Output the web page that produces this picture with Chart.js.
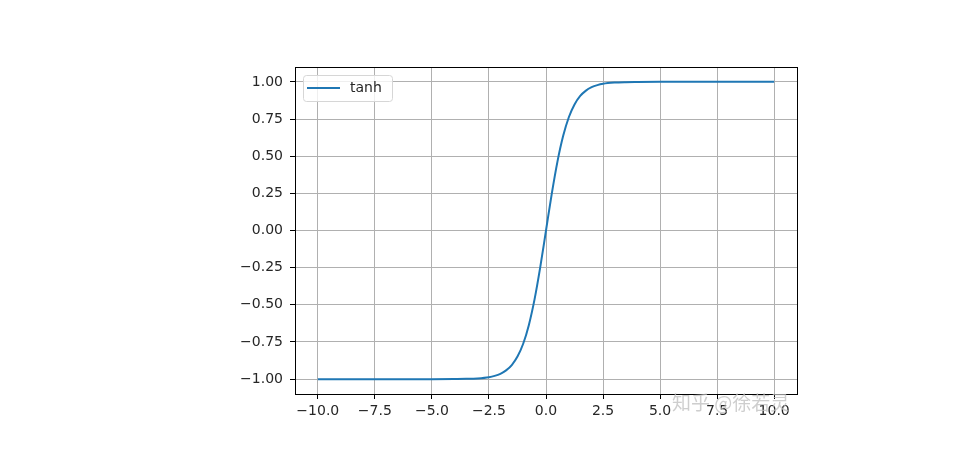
<!DOCTYPE html>
<html>
<head>
<meta charset="utf-8">
<script src="https://cdn.jsdelivr.net/npm/chart.js@4/dist/chart.umd.min.js"></script>
<style>
  body { margin: 0; background: #fff; }
  canvas { display: block; }
</style>
</head>
<body>
<canvas id="chart" width="973" height="462"></canvas>
<script>
// values
const seriesName = 'tanh';
const xValues = [-10, -9, -8, -7, -6, -5, -4, -3.5, -3, -2.5, -2.25, -2, -1.75, -1.5, -1.25, -1, -0.75, -0.5, -0.25,
                 0, 0.25, 0.5, 0.75, 1, 1.25, 1.5, 1.75, 2, 2.25, 2.5, 3, 3.5, 4, 5, 6, 7, 8, 9, 10];
const yValues = [-1.00, -1.00, -1.00, -1.00, -1.00, -1.00, -0.999, -0.998, -0.995, -0.987, -0.978, -0.964, -0.941, -0.905, -0.848, -0.762, -0.635, -0.462, -0.245,
                 0.00, 0.245, 0.462, 0.635, 0.762, 0.848, 0.905, 0.941, 0.964, 0.978, 0.987, 0.995, 0.998, 0.999, 1.00, 1.00, 1.00, 1.00, 1.00, 1.00];
const xTicks = [-10, -7.5, -5, -2.5, 0, 2.5, 5, 7.5, 10];
const yTicks = [-1, -0.75, -0.5, -0.25, 0, 0.25, 0.5, 0.75, 1];

const fontFamily = '"DejaVu Sans", sans-serif';
const textColor = '#262626';
const minus = s => s.replace('-', '\u2212');

const points = xValues.map((x, i) => ({ x: x, y: yValues[i] }));

const framePlugin = {
    id: 'frame',
    afterDraw(chart) {
        const { ctx, chartArea: a } = chart;
        ctx.save();
        ctx.strokeStyle = '#000';
        ctx.lineWidth = 1;
        ctx.strokeRect(Math.round(a.left) + 0.5, Math.round(a.top) + 0.5,
            Math.round(a.right - a.left), Math.round(a.bottom - a.top));

        // legend box, upper left inside the axes
        const ds = chart.data.datasets[0];
        const bx = a.left + 8, by = a.top + 8, bw = 89, bh = 26;
        ctx.fillStyle = 'rgba(255,255,255,0.8)';
        ctx.strokeStyle = '#d6d6d6';
        ctx.beginPath();
        ctx.roundRect(bx + 0.5, by + 0.5, bw, bh, 3);
        ctx.fill();
        ctx.stroke();
        ctx.strokeStyle = ds.borderColor;
        ctx.lineWidth = 2;
        ctx.beginPath();
        ctx.moveTo(bx + 4, by + 13);
        ctx.lineTo(bx + 37, by + 13);
        ctx.stroke();
        ctx.fillStyle = textColor;
        ctx.font = '14px ' + fontFamily;
        ctx.textBaseline = 'middle';
        ctx.fillText(ds.label, bx + 47, by + 13);

        // watermark
        ctx.fillStyle = 'rgba(190,190,190,0.75)';
        ctx.font = '19px "Noto Sans CJK SC", sans-serif';
        ctx.textBaseline = 'middle';
        ctx.fillText('知乎 @徐若灵', 672, 403);
        ctx.restore();
    }
};

new Chart(document.getElementById('chart').getContext('2d'), {
    type: 'line',
    data: {
        datasets: [{
            label: seriesName,
            data: points,
            borderColor: '#1f77b4',
            borderWidth: 2,
            pointRadius: 0,
            cubicInterpolationMode: 'monotone',
            fill: false
        }]
    },
    options: {
        responsive: false,
        animation: false,
        devicePixelRatio: 1,
        layout: { padding: { left: 0, top: 67, right: 176, bottom: 0 } },
        plugins: { legend: { display: false }, tooltip: { enabled: false } },
        scales: {
            x: {
                type: 'linear',
                min: -11,
                max: 11,
                afterBuildTicks: s => { s.ticks = xTicks.map(v => ({ value: v })); },
                afterFit: s => { s.height = 68; },
                grid: { color: '#b0b0b0', tickColor: '#000', tickLength: 5, lineWidth: 1 },
                border: { display: false },
                ticks: {
                    color: textColor,
                    font: { family: fontFamily, size: 14 },
                    padding: 4,
                    maxRotation: 0,
                    callback: v => minus(v.toFixed(1))
                }
            },
            y: {
                type: 'linear',
                min: -1.1,
                max: 1.1,
                afterBuildTicks: s => { s.ticks = yTicks.map(v => ({ value: v })); },
                afterFit: s => { s.width = 295; },
                grid: { color: '#b0b0b0', tickColor: '#000', tickLength: 5, lineWidth: 1 },
                border: { display: false },
                ticks: {
                    color: textColor,
                    font: { family: fontFamily, size: 14 },
                    padding: 7,
                    callback: v => minus(v.toFixed(2))
                }
            }
        }
    },
    plugins: [framePlugin]
});
</script>
</body>
</html>
